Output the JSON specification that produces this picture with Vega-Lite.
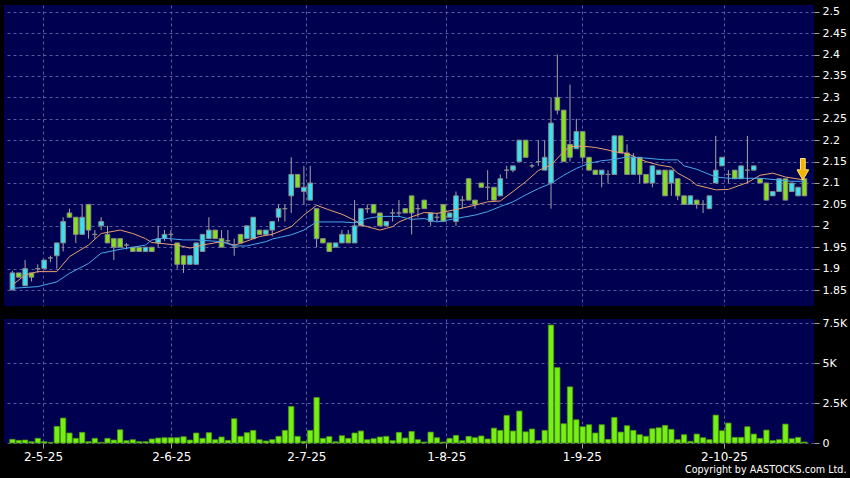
{
  "$schema": "https://vega.github.io/schema/vega-lite/v6.json",
  "autosize": {"type": "pad"},
  "padding": {"left": 4, "top": 5, "right": 30, "bottom": 30},
  "background": "#000000",
  "config": {
    "view": {"fill": "#000050", "stroke": null},
    "font": "DejaVu Sans",
    "axis": {"labelColor": "#ffffff", "labelFont": "DejaVu Sans", "labelFontSize": 11, "labelOverlap": false, "tickColor": "#a0a0a0", "domain": false, "gridColor": "#5a5a9c", "gridDash": [3, 3], "gridWidth": 1, "title": null}
  },
  "datasets": {
    "k": [
      {"i":0,"o":1.85,"h":1.895,"l":1.85,"c":1.89,"v":228},
      {"i":1,"o":1.89,"h":1.89,"l":1.88,"c":1.88,"v":164},
      {"i":2,"o":1.86,"h":1.92,"l":1.86,"c":1.90,"v":185},
      {"i":3,"o":1.89,"h":1.89,"l":1.87,"c":1.88,"v":83},
      {"i":4,"o":1.90,"h":1.91,"l":1.89,"c":1.90,"v":290},
      {"i":5,"o":1.90,"h":1.92,"l":1.90,"c":1.92,"v":83},
      {"i":6,"o":1.925,"h":1.93,"l":1.915,"c":1.925,"v":40},
      {"i":7,"o":1.93,"h":1.96,"l":1.90,"c":1.96,"v":1040},
      {"i":8,"o":1.96,"h":2.02,"l":1.94,"c":2.01,"v":1560},
      {"i":9,"o":2.03,"h":2.04,"l":2.02,"c":2.02,"v":625},
      {"i":10,"o":2.02,"h":2.02,"l":1.96,"c":1.98,"v":290},
      {"i":11,"o":1.98,"h":2.05,"l":1.98,"c":2.02,"v":665},
      {"i":12,"o":2.05,"h":2.05,"l":1.97,"c":1.99,"v":83},
      {"i":13,"o":1.98,"h":1.99,"l":1.97,"c":1.98,"v":290},
      {"i":14,"o":2.00,"h":2.02,"l":1.99,"c":2.01,"v":40},
      {"i":15,"o":1.98,"h":2.00,"l":1.96,"c":1.96,"v":290},
      {"i":16,"o":1.97,"h":1.97,"l":1.92,"c":1.95,"v":185},
      {"i":17,"o":1.97,"h":1.97,"l":1.95,"c":1.95,"v":830},
      {"i":18,"o":1.955,"h":1.96,"l":1.945,"c":1.955,"v":145},
      {"i":19,"o":1.95,"h":1.95,"l":1.94,"c":1.94,"v":206},
      {"i":20,"o":1.95,"h":1.95,"l":1.94,"c":1.94,"v":83},
      {"i":21,"o":1.94,"h":1.95,"l":1.94,"c":1.95,"v":83},
      {"i":22,"o":1.95,"h":1.95,"l":1.94,"c":1.94,"v":250},
      {"i":23,"o":1.96,"h":2.00,"l":1.95,"c":1.97,"v":310},
      {"i":24,"o":1.97,"h":1.99,"l":1.965,"c":1.98,"v":330},
      {"i":25,"o":1.98,"h":1.99,"l":1.965,"c":1.98,"v":330},
      {"i":26,"o":1.96,"h":1.96,"l":1.90,"c":1.91,"v":330},
      {"i":27,"o":1.93,"h":1.93,"l":1.89,"c":1.91,"v":395},
      {"i":28,"o":1.91,"h":1.93,"l":1.91,"c":1.93,"v":185},
      {"i":29,"o":1.91,"h":1.96,"l":1.91,"c":1.96,"v":625},
      {"i":30,"o":1.94,"h":1.98,"l":1.94,"c":1.98,"v":290},
      {"i":31,"o":1.97,"h":2.02,"l":1.97,"c":1.99,"v":645},
      {"i":32,"o":1.99,"h":1.99,"l":1.97,"c":1.97,"v":206},
      {"i":33,"o":1.97,"h":1.99,"l":1.95,"c":1.95,"v":375},
      {"i":34,"o":1.965,"h":1.99,"l":1.96,"c":1.965,"v":164},
      {"i":35,"o":1.95,"h":1.97,"l":1.93,"c":1.95,"v":1520},
      {"i":36,"o":1.98,"h":1.98,"l":1.96,"c":1.96,"v":417},
      {"i":37,"o":1.97,"h":2.00,"l":1.97,"c":2.00,"v":645},
      {"i":38,"o":1.97,"h":2.02,"l":1.97,"c":2.02,"v":790},
      {"i":39,"o":1.99,"h":1.99,"l":1.98,"c":1.98,"v":206},
      {"i":40,"o":1.98,"h":1.99,"l":1.98,"c":1.99,"v":125},
      {"i":41,"o":1.99,"h":2.01,"l":1.975,"c":2.01,"v":206},
      {"i":42,"o":2.02,"h":2.05,"l":2.01,"c":2.04,"v":417},
      {"i":43,"o":2.04,"h":2.05,"l":2.01,"c":2.04,"v":790},
      {"i":44,"o":2.07,"h":2.16,"l":2.03,"c":2.12,"v":2290},
      {"i":45,"o":2.12,"h":2.12,"l":2.09,"c":2.09,"v":417},
      {"i":46,"o":2.08,"h":2.14,"l":2.05,"c":2.09,"v":104},
      {"i":47,"o":2.06,"h":2.14,"l":2.06,"c":2.10,"v":790},
      {"i":48,"o":2.04,"h":2.04,"l":1.95,"c":1.97,"v":2850},
      {"i":49,"o":1.97,"h":1.97,"l":1.96,"c":1.96,"v":290},
      {"i":50,"o":1.96,"h":1.96,"l":1.94,"c":1.94,"v":400},
      {"i":51,"o":1.95,"h":1.96,"l":1.95,"c":1.96,"v":80},
      {"i":52,"o":1.96,"h":1.99,"l":1.96,"c":1.98,"v":456},
      {"i":53,"o":1.98,"h":1.99,"l":1.96,"c":1.96,"v":290},
      {"i":54,"o":1.96,"h":2.06,"l":1.96,"c":2.00,"v":625},
      {"i":55,"o":2.00,"h":2.04,"l":2.00,"c":2.04,"v":750},
      {"i":56,"o":2.04,"h":2.05,"l":2.03,"c":2.04,"v":206},
      {"i":57,"o":2.05,"h":2.05,"l":2.03,"c":2.03,"v":270},
      {"i":58,"o":2.03,"h":2.03,"l":2.00,"c":2.00,"v":375},
      {"i":59,"o":2.00,"h":2.01,"l":2.00,"c":2.01,"v":417},
      {"i":60,"o":2.03,"h":2.04,"l":2.01,"c":2.03,"v":145},
      {"i":61,"o":2.03,"h":2.06,"l":2.02,"c":2.03,"v":665},
      {"i":62,"o":2.04,"h":2.04,"l":2.03,"c":2.03,"v":310},
      {"i":63,"o":2.07,"h":2.07,"l":1.98,"c":2.03,"v":725},
      {"i":64,"o":2.04,"h":2.05,"l":2.02,"c":2.04,"v":206},
      {"i":65,"o":2.06,"h":2.06,"l":2.04,"c":2.04,"v":60},
      {"i":66,"o":2.01,"h":2.03,"l":2.00,"c":2.03,"v":685},
      {"i":67,"o":2.02,"h":2.03,"l":2.01,"c":2.02,"v":330},
      {"i":68,"o":2.05,"h":2.05,"l":2.01,"c":2.01,"v":60},
      {"i":69,"o":2.02,"h":2.03,"l":2.02,"c":2.03,"v":290},
      {"i":70,"o":2.01,"h":2.08,"l":2.00,"c":2.07,"v":475},
      {"i":71,"o":2.06,"h":2.07,"l":2.04,"c":2.06,"v":145},
      {"i":72,"o":2.11,"h":2.11,"l":2.06,"c":2.06,"v":417},
      {"i":73,"o":2.06,"h":2.06,"l":2.04,"c":2.05,"v":330},
      {"i":74,"o":2.10,"h":2.10,"l":2.09,"c":2.09,"v":440},
      {"i":75,"o":2.09,"h":2.13,"l":2.06,"c":2.09,"v":250},
      {"i":76,"o":2.09,"h":2.09,"l":2.06,"c":2.06,"v":930},
      {"i":77,"o":2.07,"h":2.12,"l":2.07,"c":2.11,"v":790},
      {"i":78,"o":2.13,"h":2.14,"l":2.11,"c":2.13,"v":1730},
      {"i":79,"o":2.13,"h":2.14,"l":2.125,"c":2.14,"v":750},
      {"i":80,"o":2.15,"h":2.20,"l":2.15,"c":2.20,"v":2000},
      {"i":81,"o":2.20,"h":2.20,"l":2.16,"c":2.16,"v":700},
      {"i":82,"o":2.14,"h":2.145,"l":2.135,"c":2.14,"v":875},
      {"i":83,"o":2.15,"h":2.20,"l":2.14,"c":2.15,"v":145},
      {"i":84,"o":2.13,"h":2.20,"l":2.13,"c":2.16,"v":790},
      {"i":85,"o":2.10,"h":2.30,"l":2.04,"c":2.24,"v":7394},
      {"i":86,"o":2.30,"h":2.40,"l":2.26,"c":2.27,"v":4725},
      {"i":87,"o":2.27,"h":2.27,"l":2.15,"c":2.15,"v":1206},
      {"i":88,"o":2.19,"h":2.33,"l":2.15,"c":2.16,"v":3519},
      {"i":89,"o":2.18,"h":2.25,"l":2.18,"c":2.22,"v":1456},
      {"i":90,"o":2.22,"h":2.22,"l":2.15,"c":2.16,"v":1019},
      {"i":91,"o":2.16,"h":2.16,"l":2.13,"c":2.13,"v":1144},
      {"i":92,"o":2.13,"h":2.13,"l":2.12,"c":2.12,"v":625},
      {"i":93,"o":2.12,"h":2.13,"l":2.09,"c":2.13,"v":1144},
      {"i":94,"o":2.12,"h":2.13,"l":2.10,"c":2.12,"v":228},
      {"i":95,"o":2.12,"h":2.21,"l":2.12,"c":2.21,"v":1602},
      {"i":96,"o":2.21,"h":2.21,"l":2.17,"c":2.17,"v":685},
      {"i":97,"o":2.17,"h":2.19,"l":2.12,"c":2.12,"v":1081},
      {"i":98,"o":2.12,"h":2.17,"l":2.12,"c":2.16,"v":790},
      {"i":99,"o":2.16,"h":2.16,"l":2.10,"c":2.12,"v":520},
      {"i":100,"o":2.12,"h":2.12,"l":2.10,"c":2.10,"v":417},
      {"i":101,"o":2.10,"h":2.14,"l":2.09,"c":2.14,"v":894},
      {"i":102,"o":2.12,"h":2.13,"l":2.12,"c":2.13,"v":956},
      {"i":103,"o":2.13,"h":2.13,"l":2.07,"c":2.07,"v":1100},
      {"i":104,"o":2.10,"h":2.13,"l":2.07,"c":2.13,"v":852},
      {"i":105,"o":2.11,"h":2.11,"l":2.06,"c":2.07,"v":206},
      {"i":106,"o":2.07,"h":2.07,"l":2.05,"c":2.05,"v":520},
      {"i":107,"o":2.05,"h":2.07,"l":2.05,"c":2.07,"v":104},
      {"i":108,"o":2.06,"h":2.06,"l":2.04,"c":2.05,"v":560},
      {"i":109,"o":2.05,"h":2.06,"l":2.03,"c":2.05,"v":330},
      {"i":110,"o":2.04,"h":2.07,"l":2.04,"c":2.07,"v":206},
      {"i":111,"o":2.10,"h":2.21,"l":2.10,"c":2.13,"v":1748},
      {"i":112,"o":2.14,"h":2.16,"l":2.14,"c":2.16,"v":768},
      {"i":113,"o":2.12,"h":2.13,"l":2.10,"c":2.12,"v":1248},
      {"i":114,"o":2.13,"h":2.13,"l":2.11,"c":2.11,"v":352},
      {"i":115,"o":2.11,"h":2.14,"l":2.11,"c":2.14,"v":352},
      {"i":116,"o":2.13,"h":2.21,"l":2.10,"c":2.13,"v":1019},
      {"i":117,"o":2.13,"h":2.14,"l":2.13,"c":2.14,"v":560},
      {"i":118,"o":2.11,"h":2.11,"l":2.10,"c":2.10,"v":290},
      {"i":119,"o":2.10,"h":2.10,"l":2.06,"c":2.06,"v":810},
      {"i":120,"o":2.07,"h":2.08,"l":2.07,"c":2.08,"v":145},
      {"i":121,"o":2.08,"h":2.11,"l":2.08,"c":2.11,"v":206},
      {"i":122,"o":2.11,"h":2.11,"l":2.06,"c":2.06,"v":1185},
      {"i":123,"o":2.08,"h":2.10,"l":2.08,"c":2.10,"v":270},
      {"i":124,"o":2.07,"h":2.09,"l":2.07,"c":2.09,"v":352},
      {"i":125,"o":2.11,"h":2.11,"l":2.07,"c":2.07,"v":60}
    ],
    "ma": [
      {"i":0,"k":"s","p":1.862},{"i":2,"k":"s","p":1.885},{"i":4,"k":"s","p":1.893},{"i":7,"k":"s","p":1.893},
      {"i":9,"k":"s","p":1.928},{"i":12,"k":"s","p":1.955},{"i":14,"k":"s","p":1.982},{"i":17,"k":"s","p":1.99},
      {"i":19,"k":"s","p":1.982},{"i":21,"k":"s","p":1.97},{"i":22,"k":"s","p":1.961},{"i":26,"k":"s","p":1.955},
      {"i":28,"k":"s","p":1.948},{"i":30,"k":"s","p":1.955},{"i":33,"k":"s","p":1.963},{"i":35,"k":"s","p":1.955},
      {"i":36,"k":"s","p":1.959},{"i":39,"k":"s","p":1.975},{"i":41,"k":"s","p":1.98},{"i":44,"k":"s","p":1.998},
      {"i":46,"k":"s","p":2.025},{"i":48,"k":"s","p":2.048},{"i":50,"k":"s","p":2.037},{"i":52,"k":"s","p":2.027},
      {"i":54,"k":"s","p":2.013},{"i":55,"k":"s","p":2.002},{"i":58,"k":"s","p":1.99},{"i":59,"k":"s","p":1.994},
      {"i":60,"k":"s","p":1.998},{"i":61,"k":"s","p":2.009},{"i":63,"k":"s","p":2.021},{"i":65,"k":"s","p":2.031},
      {"i":67,"k":"s","p":2.029},{"i":70,"k":"s","p":2.038},{"i":73,"k":"s","p":2.048},{"i":75,"k":"s","p":2.056},
      {"i":77,"k":"s","p":2.058},{"i":79,"k":"s","p":2.08},{"i":81,"k":"s","p":2.103},{"i":83,"k":"s","p":2.129},
      {"i":85,"k":"s","p":2.142},{"i":87,"k":"s","p":2.173},{"i":88,"k":"s","p":2.185},{"i":90,"k":"s","p":2.186},
      {"i":92,"k":"s","p":2.183},{"i":94,"k":"s","p":2.177},{"i":95,"k":"s","p":2.173},{"i":97,"k":"s","p":2.169},
      {"i":100,"k":"s","p":2.15},{"i":102,"k":"s","p":2.142},{"i":104,"k":"s","p":2.137},{"i":105,"k":"s","p":2.123},
      {"i":107,"k":"s","p":2.107},{"i":108,"k":"s","p":2.095},{"i":111,"k":"s","p":2.084},{"i":113,"k":"s","p":2.085},
      {"i":116,"k":"s","p":2.101},{"i":118,"k":"s","p":2.118},{"i":120,"k":"s","p":2.123},{"i":122,"k":"s","p":2.114},
      {"i":125,"k":"s","p":2.107},
      {"i":0,"k":"l","p":1.854},{"i":4,"k":"l","p":1.858},{"i":7,"k":"l","p":1.869},{"i":9,"k":"l","p":1.889},
      {"i":12,"k":"l","p":1.912},{"i":14,"k":"l","p":1.936},{"i":17,"k":"l","p":1.945},{"i":21,"k":"l","p":1.955},
      {"i":22,"k":"l","p":1.967},{"i":24,"k":"l","p":1.971},{"i":27,"k":"l","p":1.967},{"i":29,"k":"l","p":1.967},
      {"i":33,"k":"l","p":1.963},{"i":35,"k":"l","p":1.953},{"i":37,"k":"l","p":1.953},{"i":40,"k":"l","p":1.963},
      {"i":41,"k":"l","p":1.969},{"i":44,"k":"l","p":1.979},{"i":46,"k":"l","p":1.99},{"i":48,"k":"l","p":2.009},
      {"i":52,"k":"l","p":2.009},{"i":54,"k":"l","p":2.007},{"i":56,"k":"l","p":2.017},{"i":58,"k":"l","p":2.022},
      {"i":61,"k":"l","p":2.022},{"i":63,"k":"l","p":2.015},{"i":65,"k":"l","p":2.017},{"i":67,"k":"l","p":2.009},
      {"i":70,"k":"l","p":2.017},{"i":73,"k":"l","p":2.025},{"i":75,"k":"l","p":2.033},{"i":77,"k":"l","p":2.045},
      {"i":79,"k":"l","p":2.056},{"i":81,"k":"l","p":2.072},{"i":83,"k":"l","p":2.087},{"i":85,"k":"l","p":2.099},
      {"i":87,"k":"l","p":2.118},{"i":89,"k":"l","p":2.134},{"i":91,"k":"l","p":2.146},{"i":93,"k":"l","p":2.152},
      {"i":95,"k":"l","p":2.155},{"i":97,"k":"l","p":2.161},{"i":100,"k":"l","p":2.158},{"i":103,"k":"l","p":2.154},
      {"i":105,"k":"l","p":2.154},{"i":106,"k":"l","p":2.14},{"i":108,"k":"l","p":2.132},{"i":111,"k":"l","p":2.114},
      {"i":113,"k":"l","p":2.111},{"i":116,"k":"l","p":2.111},{"i":118,"k":"l","p":2.111},{"i":121,"k":"l","p":2.107},
      {"i":123,"k":"l","p":2.104},{"i":125,"k":"l","p":2.104}
    ],
    "flag": [{"i":124.75,"p":2.132}]
  },
  "spacing": 13,
  "bounds": "flush",
  "vconcat": [
    {
      "width": 810,
      "height": 301,
      "layer": [
        {
          "data": {"name": "k"},
          "mark": {"type": "rule", "color": "#a6a6a6", "strokeWidth": 1},
          "encoding": {
            "x": {"field": "i", "type": "quantitative", "scale": {"domain": [-0.545, 125.72], "nice": false, "zero": false},
                  "axis": {"values": [4.82, 25.08, 46.38, 68.47, 89.87, 112.31], "tickCount": 50, "grid": true, "labels": false, "ticks": false}},
            "y": {"field": "h", "type": "quantitative", "scale": {"domain": [1.8127, 2.5157], "nice": false, "zero": false},
                  "axis": {"orient": "right", "values": [1.85, 1.9, 1.95, 2, 2.05, 2.1, 2.15, 2.2, 2.25, 2.3, 2.35, 2.4, 2.45, 2.5], "tickCount": 50, "format": ".2~f", "grid": true, "tickSize": 5, "labelPadding": 3, "labelOverlap": false, "labelBound": false, "labelFlush": false}},
            "y2": {"field": "l"}
          }
        },
        {
          "data": {"name": "k"},
          "mark": {"type": "bar", "width": 4.6, "stroke": "#8a8a8a", "strokeWidth": 1},
          "encoding": {
            "x": {"field": "i", "type": "quantitative"},
            "y": {"field": "o", "type": "quantitative"},
            "y2": {"field": "c"},
            "fill": {"condition": {"test": "datum.c > datum.o", "value": "#38e2f0"}, "value": "#86e01c"}
          }
        },
        {
          "data": {"name": "ma"},
          "mark": {"type": "line", "strokeWidth": 1},
          "encoding": {
            "x": {"field": "i", "type": "quantitative"},
            "y": {"field": "p", "type": "quantitative"},
            "color": {"field": "k", "type": "nominal", "scale": {"domain": ["s", "l"], "range": ["#e9a070", "#4aa8ea"]}, "legend": null}
          }
        },
        {
          "data": {"name": "flag"},
          "mark": {"type": "point", "shape": "M-0.22,-1L0.22,-1L0.22,0.05L0.54,0.05L0,1L-0.54,0.05L-0.22,0.05Z", "size": 467, "filled": true, "fill": "#f2b400", "stroke": "#ffe680", "strokeWidth": 1, "opacity": 1},
          "encoding": {
            "x": {"field": "i", "type": "quantitative"},
            "y": {"field": "p", "type": "quantitative"}
          }
        }
      ]
    },
    {
      "width": 810,
      "height": 124,
      "data": {"name": "k"},
      "mark": {"type": "bar", "width": 5.3, "fill": "#76f012", "stroke": "#4d9a10", "strokeWidth": 0.8},
      "encoding": {
        "x": {"field": "i", "type": "quantitative", "scale": {"domain": [-0.545, 125.72], "nice": false, "zero": false},
              "axis": {"values": [4.82, 25.08, 46.38, 68.47, 89.87, 112.31], "tickCount": 50, "grid": true, "labelFontSize": 12, "tickSize": 5, "labelPadding": 3, "labelOverlap": false,
                       "labelExpr": "datum.value < 15 ? '2-5-25' : datum.value < 35 ? '2-6-25' : datum.value < 55 ? '2-7-25' : datum.value < 80 ? '1-8-25' : datum.value < 100 ? '1-9-25' : '2-10-25'",
                       "title": "Copyright by AASTOCKS.com Ltd.", "titleColor": "#ffffff", "titleFont": "DejaVu Sans", "titleFontSize": 9.6, "titleFontWeight": "normal", "titleAnchor": "end", "titleAlign": "right", "titleBaseline": "alphabetic", "titleX": 842, "titleY": 29}},
        "y": {"field": "v", "type": "quantitative", "scale": {"domain": [0, 7770], "nice": false},
              "axis": {"orient": "right", "values": [0, 2500, 5000, 7500], "tickCount": 50, "grid": true, "tickSize": 5, "labelPadding": 3, "labelOverlap": false,
                       "labelExpr": "datum.value == 0 ? '0' : format(datum.value / 1000, '~g') + 'K'"}}
      }
    }
  ]
}
